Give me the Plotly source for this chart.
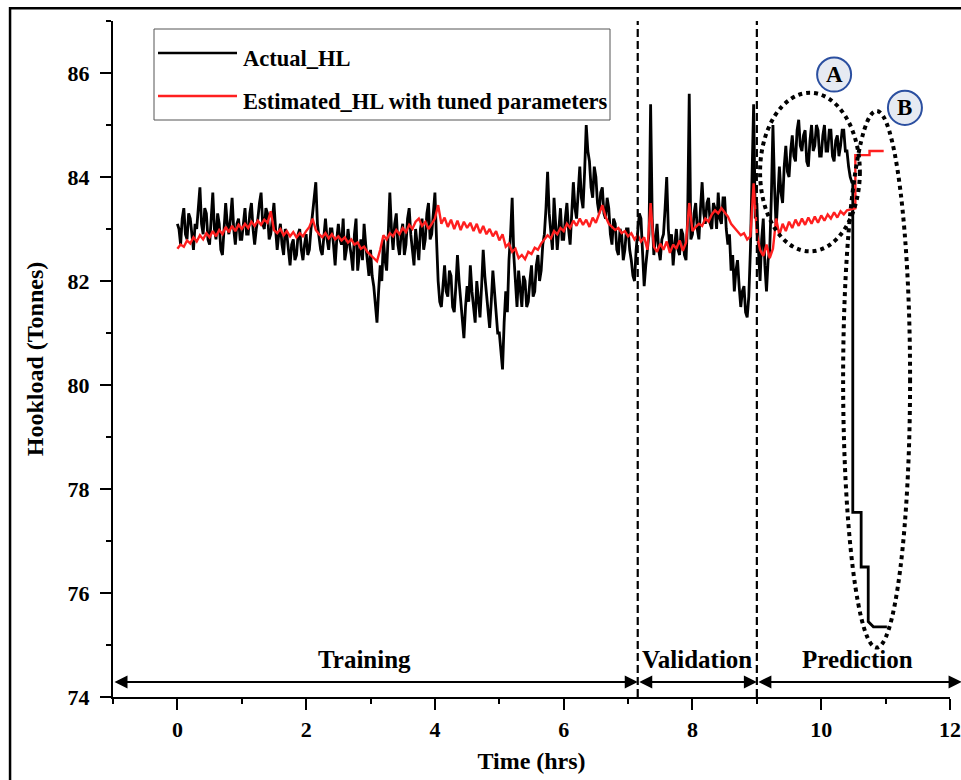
import numpy as np
import plotly.graph_objects as go

# ---------------- data ----------------
actual_step = 0.025     # hours between samples of the actual hookload
estimated_step = 0.05   # hours between samples of the estimated hookload

actual_hl = [
    # 0.000 - 0.975
    83.1, 83.0, 82.7, 83.2, 83.4, 82.9, 82.8, 83.3, 83.2, 82.9, 82.6, 83.1, 83.0, 83.4, 83.8, 83.1, 82.9, 83.4, 83.3, 82.8,
    82.7, 83.2, 83.7, 83.0, 82.8, 83.3, 83.1, 82.6, 82.5, 83.0, 83.5, 83.1, 82.9, 83.2, 83.6, 83.0, 82.7, 83.1, 83.2, 82.8,
    # 1.000 - 1.975
    82.8, 83.1, 83.4, 82.9, 82.9, 83.3, 83.5, 83.0, 82.7, 83.0, 83.2, 83.5, 83.7, 83.1, 83.0, 83.4, 83.3, 82.8, 82.9, 83.2,
    83.5, 83.0, 82.6, 82.9, 83.1, 82.7, 82.5, 83.0, 82.9, 82.6, 82.3, 82.7, 82.8, 82.4, 82.5, 82.9, 83.0, 82.6, 82.4, 82.7,
    # 2.000 - 2.975
    82.9, 82.5, 82.6, 83.0, 83.3, 83.5, 83.9, 83.1, 82.8, 82.6, 82.5, 82.9, 83.2, 82.8, 82.6, 83.0, 83.0, 82.7, 82.3, 82.8,
    83.1, 82.8, 82.7, 83.2, 82.4, 82.6, 83.0, 82.7, 82.5, 82.2, 82.9, 83.2, 82.2, 82.5, 82.8, 82.4, 83.1, 82.7, 82.4, 82.1,
    # 3.000 - 3.975
    82.6, 82.1, 81.9, 81.5, 81.2, 81.8, 82.3, 82.0, 82.8, 82.4, 82.2, 82.9, 83.7, 83.0, 82.6, 83.1, 83.3, 82.7, 82.5, 82.9,
    83.1, 82.5, 82.7, 83.2, 83.4, 82.9, 82.6, 82.3, 83.0, 82.7, 82.4, 83.0, 83.2, 82.6, 82.8, 83.3, 83.5, 82.8, 82.9, 83.3,
    # 4.000 - 4.975
    83.7, 82.8, 82.0, 81.6, 81.5, 81.9, 82.3, 81.8, 81.7, 82.2, 82.1, 81.5, 81.4, 81.9, 82.5, 82.0, 81.6, 81.2, 80.9, 81.5,
    81.9, 81.6, 82.3, 81.8, 81.5, 81.2, 82.0, 81.7, 81.3, 81.9, 82.6, 82.1, 81.8, 81.4, 81.1, 81.6, 82.2, 81.8, 81.4, 81.0,
    # 5.000 - 5.975
    81.0, 80.7, 80.3, 81.2, 81.8, 81.4, 82.4, 82.9, 83.6, 82.5, 81.9, 81.5, 82.2, 81.8, 81.5, 82.1, 82.0, 81.5, 81.6, 82.0,
    82.3, 81.7, 81.8, 82.3, 82.5, 82.0, 82.2, 82.7, 82.9, 83.4, 84.1, 83.3, 83.0, 82.6, 83.6, 83.1, 82.6, 83.0, 83.4, 82.8,
    # 6.000 - 6.975
    82.8, 83.2, 83.5, 83.0, 82.7, 83.3, 83.9, 83.4, 83.2, 83.7, 84.2, 83.6, 83.4, 84.1, 85.0, 84.5, 84.3, 83.8, 83.6, 84.2,
    84.0, 83.5, 83.3, 83.7, 83.8, 83.3, 83.2, 83.6, 83.4, 82.9, 82.7, 83.2, 83.1, 82.6, 82.5, 83.0, 82.9, 82.4, 82.6, 83.0,
    # 7.000 - 7.975
    83.0, 82.6, 82.4, 82.1, 82.0, 82.6, 82.9, 83.3, 83.2, 82.4, 81.9, 82.3, 82.6, 82.9, 85.4, 83.2, 82.5, 82.8, 83.1, 82.6,
    82.4, 82.8, 82.9, 83.4, 84.0, 83.0, 82.6, 82.9, 82.3, 82.7, 83.0, 82.6, 82.5, 83.0, 82.9, 82.5, 82.4, 83.2, 85.6, 82.8,
    # 8.000 - 8.975
    82.9, 83.3, 83.5, 83.0, 82.8, 83.4, 83.9, 83.3, 83.1, 83.5, 83.6, 83.1, 83.0, 83.5, 83.4, 83.0, 83.7, 83.2, 83.1, 83.6,
    83.6, 83.0, 82.7, 82.9, 82.2, 82.5, 81.8, 82.2, 82.4, 81.9, 81.5, 81.8, 81.9, 81.4, 81.3, 81.7, 82.6, 84.0, 85.4, 83.2,
    # 9.000 - 9.975
    83.5, 82.6, 82.0, 82.8, 83.2, 82.3, 81.8, 82.4, 82.6, 83.6, 85.0, 83.8, 83.0, 83.6, 84.2, 83.7, 83.5, 84.2, 84.6, 84.1,
    84.0, 84.5, 84.8, 84.4, 84.3, 84.9, 85.1, 84.6, 84.5, 84.8, 84.9, 84.3, 84.2, 84.7, 85.0, 84.5, 84.6, 85.0, 84.9, 84.4,
    # 10.000 - 10.475
    84.4, 84.8, 85.0, 84.5, 84.5, 84.9, 84.9, 84.4, 84.3, 84.7, 84.8, 84.4, 84.6, 84.9, 84.9, 84.5, 84.5, 84.2, 84.0, 83.9,
]
# stepwise drop of the actual hookload at the end of the record
actual_tail_t = [10.49, 10.49, 10.62, 10.62, 10.73, 10.73, 10.81, 11.02]
actual_tail_v = [83.9, 77.55, 77.55, 76.5, 76.5, 75.45, 75.35, 75.35]

estimated_hl = [
    # 0.00 - 0.95
    82.62, 82.70, 82.66, 82.78, 82.72, 82.84, 82.76, 82.88, 82.80, 82.92, 82.84, 82.96, 82.86, 82.98, 82.90, 83.04, 82.94, 83.06, 82.96, 83.08,
    # 1.00 - 1.95
    83.00, 83.10, 83.02, 83.14, 83.06, 83.16, 83.08, 83.18, 83.12, 83.34, 82.98, 82.92, 83.00, 82.88, 82.96, 82.86, 82.94, 82.84, 82.92, 82.86,
    # 2.00 - 2.95
    82.96, 83.04, 83.20, 82.98, 82.90, 82.84, 82.92, 82.82, 82.90, 82.80, 82.86, 82.78, 82.84, 82.74, 82.80, 82.70, 82.74, 82.62, 82.66, 82.56,
    # 3.00 - 3.95
    82.50, 82.44, 82.38, 82.60, 82.88, 82.80, 82.92, 82.86, 82.98, 82.90, 83.02, 82.94, 83.08, 83.00, 83.14, 83.20, 83.06, 83.14, 83.00, 83.10,
    # 4.00 - 4.95
    83.20, 83.46, 83.10, 83.22, 83.04, 83.18, 83.00, 83.16, 82.98, 83.14, 83.02, 83.12, 82.96, 83.10, 82.92, 83.06, 82.90, 83.00, 82.86, 82.96,
    # 5.00 - 5.95
    82.78, 82.90, 82.66, 82.72, 82.56, 82.62, 82.44, 82.50, 82.42, 82.56, 82.52, 82.64, 82.60, 82.72, 82.80, 82.88, 82.82, 82.96, 82.90, 83.02,
    # 6.00 - 6.95
    82.96, 83.10, 83.02, 83.16, 83.06, 83.20, 83.08, 83.18, 83.04, 83.22, 83.12, 83.30, 83.46, 83.24, 83.10, 83.04, 82.98, 83.02, 82.92, 82.96,
    # 7.00 - 7.95
    82.86, 82.92, 82.80, 82.88, 82.76, 82.84, 82.60, 83.50, 82.66, 82.56, 82.72, 82.60, 82.76, 82.54, 82.70, 82.62, 82.78, 82.58, 82.74, 83.50,
    # 8.00 - 8.95
    82.96, 83.04, 83.10, 83.06, 83.20, 83.14, 83.28, 83.36, 83.30, 83.40, 83.32, 83.24, 83.10, 83.02, 82.96, 82.88, 82.92, 82.80, 82.86, 83.88,
    # 9.00 - 9.95
    82.90, 82.60, 82.48, 82.70, 82.44, 82.62, 83.20, 82.88, 83.10, 82.96, 83.14, 83.02, 83.18, 83.06, 83.20, 83.08, 83.22, 83.10, 83.24, 83.12,
    # 10.00 - 10.45
    83.26, 83.16, 83.28, 83.20, 83.32, 83.22, 83.34, 83.28, 83.36, 83.38,
]
estimated_tail_t = [10.50, 10.53, 10.53, 10.75, 10.75, 10.97]
estimated_tail_v = [83.40, 83.40, 84.42, 84.42, 84.50, 84.50]

phase_bounds = [-1.0, 7.15, 9.0, 12.18]          # Training | Validation | Prediction
phase_labels = ["Training", "Validation", "Prediction"]
phase_label_x = [2.9, 8.07, 10.57]
x_ticks = [0, 2, 4, 6, 8, 10, 12]
y_ticks = [74, 76, 78, 80, 82, 84, 86]

# ---------------- figure ----------------
FONT = "Liberation Serif, Times New Roman, serif"

t_act = np.round(np.arange(len(actual_hl)) * actual_step, 4)
t_est = np.round(np.arange(len(estimated_hl)) * estimated_step, 4)

fig = go.Figure()
fig.add_trace(go.Scatter(
    x=list(t_act) + actual_tail_t, y=actual_hl + actual_tail_v,
    mode="lines", name="Actual_HL", line=dict(color="black", width=2.8),
    showlegend=False))
fig.add_trace(go.Scatter(
    x=list(t_est) + estimated_tail_t, y=estimated_hl + estimated_tail_v,
    mode="lines", name="Estimated_HL with tuned parameters",
    line=dict(color="#ff1f1f", width=2.4), showlegend=False))

shapes = []
annotations = []

# outer frame of the picture
shapes.append(dict(type="rect", xref="paper", yref="paper",
                   x0=-0.123, x1=1.05, y0=-0.2, y1=1.019,
                   line=dict(color="black", width=2.5), layer="above"))

# phase separators
for xb in phase_bounds[1:3]:
    shapes.append(dict(type="line", xref="x", yref="y", x0=xb, x1=xb, y0=74, y1=87,
                       line=dict(color="black", width=2.2, dash="8px,4px")))

# phase arrows + labels
arrow_y = 74.29
for i, lab in enumerate(phase_labels):
    annotations.append(dict(x=phase_bounds[i + 1], y=arrow_y, ax=phase_bounds[i], ay=arrow_y,
                            xref="x", yref="y", axref="x", ayref="y", text="",
                            showarrow=True, arrowhead=2, arrowsize=1.3, arrowwidth=2,
                            arrowcolor="black", arrowside="end+start",
                            startarrowhead=2, startarrowsize=1.3))
    annotations.append(dict(x=phase_label_x[i], y=74.73, xref="x", yref="y", text=lab,
                            showarrow=False,
                            font=dict(family=FONT, size=25, color="black", weight="bold")))

# dotted ellipses A and B
shapes.append(dict(type="circle", xref="x", yref="y", x0=9.05, x1=10.6, y0=82.57, y1=85.62,
                   line=dict(color="black", width=4, dash="dot")))
shapes.append(dict(type="circle", xref="x", yref="y", x0=10.34, x1=11.38, y0=74.95, y1=85.27,
                   line=dict(color="black", width=4, dash="dot")))

# circled letters
for cx, cy, letter in [(10.20, 85.97, "A"), (11.30, 85.33, "B")]:
    shapes.append(dict(type="circle", xref="x", yref="y",
                       x0=cx - 0.264, x1=cx + 0.264, y0=cy - 0.328, y1=cy + 0.328,
                       fillcolor="#e6eaf2", line=dict(color="#2b4fa0", width=2)))
    annotations.append(dict(x=cx, y=cy, xref="x", yref="y", text=letter, showarrow=False,
                            font=dict(family=FONT, size=23, color="black", weight="bold")))

# legend box (drawn by hand to match the long line samples)
def px2x(px):
    return (px - 113) / 837.0

def py2y(py):
    return (697 - py) / 676.0

shapes.append(dict(type="rect", xref="paper", yref="paper",
                   x0=px2x(154), x1=px2x(610), y0=py2y(120), y1=py2y(29),
                   fillcolor="white", line=dict(color="#555555", width=1), layer="above"))
legend_items = [("Actual_HL", "black", 53, 59), ("Estimated_HL with tuned parameters", "#ff1f1f", 96, 101)]
for text, col, ly, ty in legend_items:
    shapes.append(dict(type="line", xref="paper", yref="paper",
                       x0=px2x(158), x1=px2x(237), y0=py2y(ly), y1=py2y(ly),
                       line=dict(color=col, width=2.6), layer="above"))
    annotations.append(dict(x=px2x(241), y=py2y(ty), xref="paper", yref="paper", text=text,
                            showarrow=False, xanchor="left", yanchor="middle",
                            font=dict(family=FONT, size=22.5, color="black", weight="bold")))

axis_common = dict(showline=True, linecolor="black", linewidth=2.2, ticks="outside",
                   ticklen=11, tickwidth=2, tickcolor="black", showgrid=False, zeroline=False,
                   tickfont=dict(family=FONT, size=22, color="black", weight="bold"),
                   mirror=False, automargin=False)

fig.update_layout(
    width=961, height=780,
    margin=dict(l=113, r=11, t=21, b=83),
    paper_bgcolor="white", plot_bgcolor="white",
    shapes=shapes, annotations=annotations,
    xaxis=dict(range=[-1, 12], tickvals=x_ticks, **axis_common,
               minor=dict(ticks="outside", ticklen=5, tickwidth=2, tickcolor="black", dtick=1, tick0=1),
               ticklabelstandoff=0,
               title=dict(text="Time (hrs)", standoff=12,
                          font=dict(family=FONT, size=24, color="black", weight="bold"))),
    yaxis=dict(range=[74, 87], tickvals=y_ticks, **axis_common,
               minor=dict(ticks="outside", ticklen=5, tickwidth=2, tickcolor="black", dtick=1, tick0=1),
               ticklabelstandoff=6,
               title=dict(text="Hookload (Tonnes)", standoff=17,
                          font=dict(family=FONT, size=24, color="black", weight="bold"))),
    showlegend=False,
)

fig.write_html("out.html")
